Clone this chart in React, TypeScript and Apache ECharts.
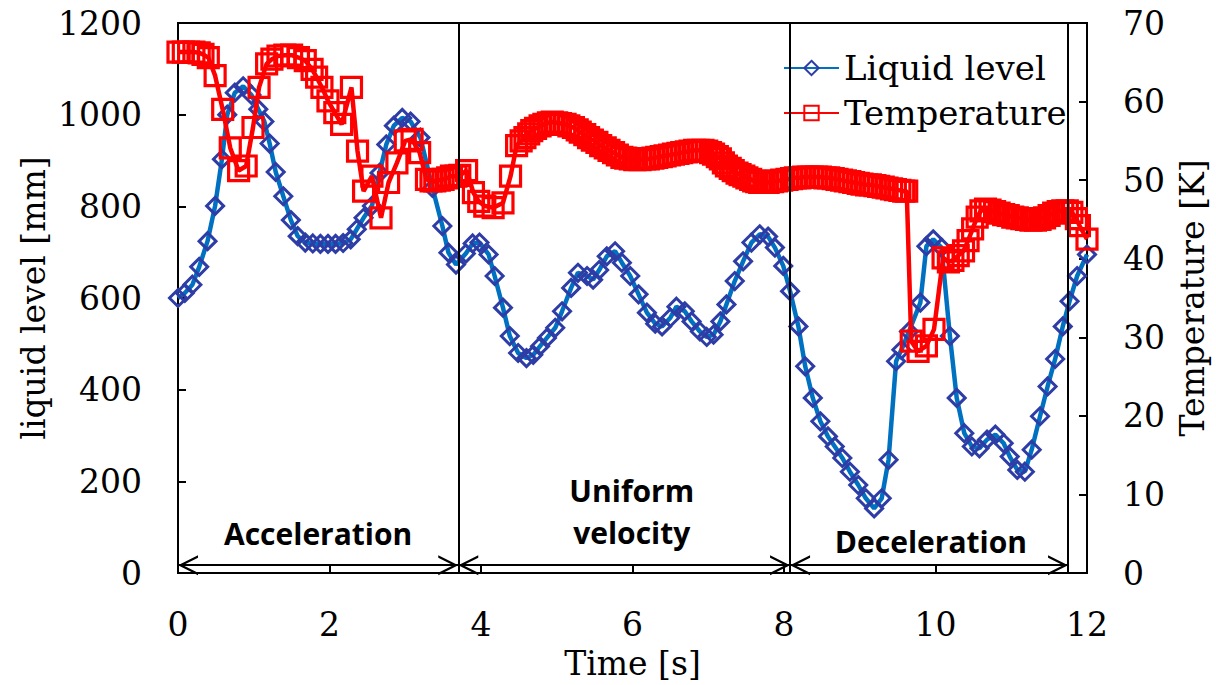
import React, { useEffect, useRef } from 'react';
import * as echarts from 'echarts';

const levelTime = [0, 0.09, 0.19, 0.28, 0.39, 0.49, 0.58, 0.65, 0.75, 0.86, 0.97, 1.06, 1.14, 1.21, 1.29, 1.39, 1.49, 1.58, 1.68, 1.78, 1.88, 1.98, 2.08, 2.18, 2.28, 2.36, 2.45, 2.56, 2.66, 2.75, 2.85, 2.96, 3.07, 3.2, 3.36, 3.49, 3.57, 3.67, 3.8, 3.89, 3.98, 4.1, 4.18, 4.29, 4.38, 4.49, 4.6, 4.69, 4.78, 4.87, 4.98, 5.07, 5.19, 5.28, 5.4, 5.48, 5.56, 5.66, 5.77, 5.86, 5.97, 6.08, 6.19, 6.3, 6.39, 6.5, 6.58, 6.69, 6.78, 6.89, 6.98, 7.07, 7.16, 7.24, 7.35, 7.46, 7.57, 7.68, 7.79, 7.88, 7.99, 8.08, 8.19, 8.28, 8.38, 8.48, 8.58, 8.67, 8.77, 8.87, 8.98, 9.08, 9.19, 9.29, 9.38, 9.48, 9.55, 9.65, 9.8, 9.88, 9.97, 10.08, 10.19, 10.28, 10.38, 10.48, 10.58, 10.68, 10.79, 10.9, 10.98, 11.08, 11.18, 11.27, 11.38, 11.48, 11.58, 11.68, 11.77, 11.87, 12.0];
const levelValue = [600, 611, 629, 668, 724, 801, 903, 1000, 1048, 1062, 1043, 1012, 985, 937, 875, 822, 770, 735, 721, 719, 718, 718, 718, 720, 728, 750, 775, 801, 873, 935, 976, 993, 985, 950, 840, 757, 699, 673, 697, 719, 721, 695, 648, 579, 517, 480, 469, 476, 495, 513, 535, 571, 622, 655, 648, 640, 661, 691, 702, 677, 648, 608, 568, 544, 538, 557, 581, 571, 549, 527, 515, 520, 549, 586, 637, 680, 721, 739, 734, 710, 670, 615, 538, 451, 382, 331, 298, 276, 251, 221, 192, 163, 141, 163, 247, 462, 487, 527, 590, 713, 728, 710, 517, 382, 305, 276, 272, 291, 302, 283, 254, 225, 221, 269, 342, 407, 467, 538, 593, 648, 695];

const tempTime = [0, 0.07, 0.14, 0.21, 0.28, 0.33, 0.4, 0.49, 0.59, 0.69, 0.8, 0.9, 0.99, 1.07, 1.17, 1.24, 1.32, 1.41, 1.5, 1.59, 1.68, 1.77, 1.83, 1.9, 1.98, 2.07, 2.16, 2.29, 2.37, 2.45, 2.56, 2.68, 2.78, 2.89, 3.0, 3.09, 3.19, 3.28, 3.34, 3.39, 3.45, 3.5, 3.56, 3.61, 3.67, 3.72, 3.81, 3.9, 3.97, 4.05, 4.16, 4.29, 4.39, 4.47, 4.53, 4.58, 4.63, 4.67, 4.72, 4.78, 4.83, 4.89, 4.94, 5.0, 5.05, 5.11, 5.16, 5.22, 5.27, 5.31, 5.37, 5.42, 5.47, 5.53, 5.58, 5.64, 5.69, 5.75, 5.8, 5.86, 5.91, 5.97, 6.03, 6.1, 6.16, 6.21, 6.27, 6.32, 6.38, 6.43, 6.49, 6.54, 6.6, 6.65, 6.71, 6.76, 6.82, 6.87, 6.93, 6.98, 7.03, 7.07, 7.12, 7.16, 7.2, 7.24, 7.29, 7.33, 7.38, 7.42, 7.47, 7.51, 7.56, 7.6, 7.64, 7.68, 7.74, 7.79, 7.85, 7.9, 7.97, 8.04, 8.1, 8.15, 8.21, 8.26, 8.32, 8.37, 8.43, 8.48, 8.54, 8.59, 8.65, 8.7, 8.76, 8.81, 8.87, 8.92, 8.98, 9.03, 9.09, 9.14, 9.2, 9.25, 9.31, 9.36, 9.42, 9.47, 9.53, 9.58, 9.62, 9.68, 9.77, 9.88, 9.98, 10.1, 10.17, 10.23, 10.3, 10.37, 10.43, 10.49, 10.55, 10.6, 10.66, 10.72, 10.78, 10.84, 10.9, 10.96, 11.02, 11.08, 11.14, 11.2, 11.26, 11.32, 11.38, 11.44, 11.5, 11.56, 11.62, 11.68, 11.74, 11.8, 11.86, 11.9, 12.0];
const tempValue = [66.3, 66.3, 66.3, 66.3, 66.2, 66.0, 65.6, 63.3, 59.0, 54.1, 51.2, 51.8, 56.7, 61.8, 64.8, 65.4, 65.8, 65.9, 65.9, 65.6, 65.2, 64.1, 63.1, 61.8, 60.1, 58.6, 57.1, 61.8, 53.7, 48.6, 50.5, 45.2, 49.7, 52.2, 55.0, 55.2, 53.5, 50.1, 49.9, 49.9, 50.0, 50.1, 50.3, 50.5, 50.5, 50.6, 51.2, 48.4, 47.3, 46.7, 46.5, 47.1, 50.5, 54.4, 55.0, 55.4, 55.9, 56.3, 56.6, 56.9, 57.1, 57.3, 57.4, 57.3, 57.2, 57.1, 56.9, 56.7, 56.4, 56.1, 55.8, 55.4, 55.1, 54.8, 54.4, 54.1, 53.8, 53.5, 53.2, 52.9, 52.8, 52.7, 52.6, 52.6, 52.7, 52.7, 52.8, 52.9, 53.0, 53.1, 53.2, 53.3, 53.4, 53.5, 53.6, 53.7, 53.8, 53.8, 53.8, 53.7, 53.5, 53.3, 53.0, 52.7, 52.2, 51.8, 51.5, 51.2, 50.9, 50.7, 50.5, 50.3, 50.1, 49.9, 49.8, 49.7, 49.7, 49.7, 49.8, 49.9, 50.0, 50.1, 50.2, 50.3, 50.3, 50.4, 50.4, 50.4, 50.4, 50.4, 50.3, 50.3, 50.2, 50.1, 50.0, 49.9, 49.8, 49.7, 49.6, 49.5, 49.4, 49.4, 49.3, 49.2, 49.1, 49.0, 48.9, 48.8, 48.7, 48.6, 48.6, 29.5, 28.2, 28.9, 31.0, 40.1, 39.6, 39.8, 40.4, 41.0, 42.3, 43.8, 45.3, 46.1, 46.3, 46.2, 46.0, 45.8, 45.6, 45.5, 45.3, 45.2, 45.1, 45.0, 44.9, 44.9, 45.0, 45.2, 45.5, 45.8, 46.0, 46.1, 46.1, 45.9, 45.1, 44.2, 42.5];

const phaseBounds = [0, 3.7, 8.08, 11.75];
const phaseNames = ['Acceleration', 'Uniform\nvelocity', 'Deceleration'];
const phaseLabelTime = [1.85, 5.99, 9.94];
const phaseLabelLevel = [87, 135, 68];
const arrowLevel = 17;

const SERIF = 'DejaVu Serif';
const CHEVRON = 'path://M0 20 L10 10 L20 20 L17.5 20 L10 12.5 L2.5 20 Z M10 0 L10.02 0.02 L10 0.04 Z';

export default function App() {
  const ref = useRef<HTMLDivElement>(null);
  useEffect(() => {
    const chart = echarts.init(ref.current!, null, { renderer: 'svg' });
    const levelData = levelTime.map((t, i) => [t, levelValue[i]]);
    const tempData = tempTime.map((t, i) => [t, tempValue[i]]);
    const arrows = phaseNames.map((_, i) => [
      { coord: [phaseBounds[i], arrowLevel] },
      { coord: [phaseBounds[i + 1], arrowLevel] },
    ]);
    const labels = phaseNames.map((n, i) => ({
      name: n,
      coord: [phaseLabelTime[i], phaseLabelLevel[i]],
    }));
    chart.setOption({
      animation: false,
      backgroundColor: '#fff',
      textStyle: { fontFamily: SERIF },
      grid: {
        left: 178, right: 129, top: 23, bottom: 112,
        containLabel: false, outerBoundsMode: 'none',
        show: true, borderColor: '#000', borderWidth: 2, backgroundColor: 'transparent',
      },
      legend: {
        data: ['Liquid level', 'Temperature'],
        orient: 'vertical',
        left: 783,
        top: 48,
        padding: 0,
        itemWidth: 55,
        itemHeight: 18,
        itemGap: 5,
        textStyle: { fontSize: 34, fontFamily: SERIF, color: '#000', lineHeight: 40 },
      },
      xAxis: {
        type: 'value', min: 0, max: 12, interval: 2,
        name: 'Time [s]', nameLocation: 'middle', nameGap: 74, nameMoveOverlap: false,
        nameTextStyle: { fontSize: 33, fontFamily: SERIF, color: '#000' },
        axisLine: { lineStyle: { color: '#000', width: 2 } },
        axisTick: { inside: true, length: 8, lineStyle: { color: '#000', width: 2 } },
        axisLabel: { fontSize: 33, fontFamily: SERIF, color: '#000', margin: 35, formatter: (v: number) => String(v) },
        splitLine: { show: false },
      },
      yAxis: [
        {
          type: 'value', min: 0, max: 1200, interval: 200, position: 'left',
          name: 'liquid level [mm]', nameLocation: 'middle', nameRotate: 90, nameGap: 128, nameMoveOverlap: false,
          nameTextStyle: { fontSize: 33, fontFamily: SERIF, color: '#000' },
          axisLine: { show: true, lineStyle: { color: '#000', width: 2 } },
          axisTick: { show: true, inside: true, length: 8, lineStyle: { color: '#000', width: 2 } },
          axisLabel: { fontSize: 33, fontFamily: SERIF, color: '#000', margin: 36, formatter: (v: number) => String(v) },
          splitLine: { show: false },
        },
        {
          type: 'value', min: 0, max: 70, interval: 10, position: 'right',
          name: 'Temperature [K]', nameLocation: 'middle', nameRotate: 90, nameGap: 89, nameMoveOverlap: false,
          nameTextStyle: { fontSize: 33, fontFamily: SERIF, color: '#000' },
          axisLine: { show: true, lineStyle: { color: '#000', width: 2 } },
          axisTick: { show: true, inside: true, length: 8, lineStyle: { color: '#000', width: 2 } },
          axisLabel: { fontSize: 33, fontFamily: SERIF, color: '#000', margin: 36, formatter: (v: number) => String(v) },
          splitLine: { show: false },
        },
      ],
      series: [
        {
          name: 'Liquid level', type: 'line', yAxisIndex: 0, data: levelData,
          symbol: 'diamond', symbolSize: 17,
          lineStyle: { color: '#0070C0', width: 4.5 },
          itemStyle: { color: 'rgba(0,0,0,0)', borderColor: '#2E3DA6', borderWidth: 3 },
          z: 3,
          markLine: {
            silent: true,
            symbol: [CHEVRON, CHEVRON],
            symbolSize: [20, 40],
            label: { show: false },
            lineStyle: { color: '#000', width: 2, type: 'solid' },
            data: arrows,
          },
          markPoint: {
            silent: true,
            symbol: 'rect', symbolSize: 1,
            itemStyle: { color: 'rgba(0,0,0,0)' },
            label: {
              show: true, position: 'inside', formatter: '{b}',
              fontFamily: "Open Sans", fontWeight: 'bold', fontSize: 30,
              lineHeight: 42, color: '#000',
            },
            data: labels,
          },
        },
        {
          name: 'Temperature', type: 'line', yAxisIndex: 1, data: tempData,
          symbol: 'rect', symbolSize: 20,
          lineStyle: { color: '#FF0000', width: 4.5 },
          itemStyle: { color: 'rgba(0,0,0,0)', borderColor: '#FF0000', borderWidth: 3.2 },
          z: 4,
          markLine: {
            silent: true,
            symbol: ['none', 'none'],
            label: { show: false },
            lineStyle: { color: '#000', width: 2, type: 'solid' },
            data: phaseBounds.slice(1).map((b) => ({ xAxis: b })),
          },
        },
      ],
    });
    return () => chart.dispose();
  }, []);
  return <div ref={ref} style={{ position: 'fixed', left: 0, top: 0, width: 1216, height: 685 }} />;
}
